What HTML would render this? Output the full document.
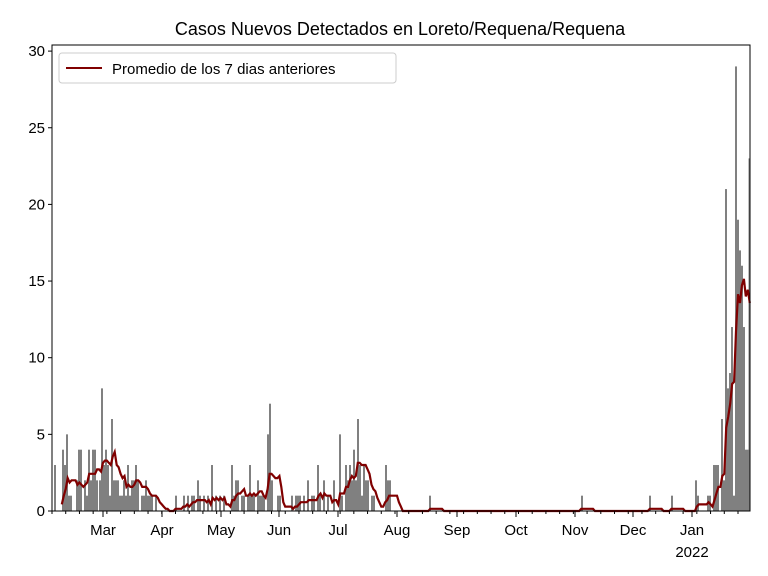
<!DOCTYPE html>
<html><head><meta charset="utf-8"><style>
body{margin:0;background:#fff;}
svg{display:block;font-family:"Liberation Sans","DejaVu Sans",sans-serif;}
</style></head><body>
<svg id="s" width="768" height="576" xmlns="http://www.w3.org/2000/svg">
<rect width="768" height="576" fill="#fff"/>
<g id="bars"></g>
<polyline id="line" fill="none" stroke="#800000" stroke-width="2.2"/>
<rect x="52" y="45" width="698" height="466" fill="none" stroke="#000" stroke-width="1"/>
<text x="400" y="35" text-anchor="middle" font-size="18">Casos Nuevos Detectados en Loreto/Requena/Requena</text>
<g id="yt" font-size="15" text-anchor="end"></g>
<g id="xt" font-size="15" text-anchor="middle"></g>
<rect x="59" y="53" width="337" height="30" fill="#fff" stroke="#ccc" rx="3"/>
<line x1="66" y1="68" x2="102" y2="68" stroke="#800000" stroke-width="2"/>
<text x="112" y="74" font-size="15">Promedio de los 7 dias anteriores</text>
</svg>
<script>
var d=[[55,3],[63,4],[65,3],[67,5],[69,1],[71,1],[77,2],[79,4],[81,4],[85,2],[87,1],[89,4],[91,2],[93,4],[95,4],[97,2],[100,2],[102,8],[104,3],[106,4],[108,3],[110,1],[112,6],[114,2],[116,2],[118,2],[120,1],[122,1],[124,2],[126,1],[128,3],[130,1],[132,2],[134,2],[136,3],[138,2],[142,1],[144,1],[146,2],[148,1],[150,1],[152,1],[156,1],[176,1],[184,1],[188,1],[192,1],[194,1],[198,2],[200,1],[204,1],[208,1],[212,3],[216,1],[220,1],[224,1],[232,3],[234,1],[236,2],[238,2],[242,1],[244,1],[248,1],[250,3],[252,1],[254,1],[258,2],[260,1],[262,1],[264,1],[268,5],[270,7],[272,2],[278,1],[280,1],[292,1],[296,1],[298,1],[300,1],[304,1],[308,2],[312,1],[314,1],[318,3],[320,1],[324,2],[328,1],[334,2],[340,5],[342,1],[346,3],[348,2],[350,3],[352,2],[354,4],[356,2],[358,6],[360,3],[362,1],[364,3],[366,2],[368,2],[372,1],[374,1],[386,3],[388,2],[390,2],[430,1],[582,1],[650,1],[672,1],[696,2],[698,1],[708,1],[710,1],[714,3],[716,3],[718,3],[722,6],[724,2],[726,21],[728,8],[730,9],[732,12],[734,1],[736,29],[738,19],[740,17],[742,16],[744,12],[746,4],[748,4],[749.5,23]];
var dx=1.96,y0=511,k=15.33,N=357,v=new Array(N).fill(0);
var ns="http://www.w3.org/2000/svg",B=document.getElementById('bars');
function el(t,a,p){var e=document.createElementNS(ns,t);for(var q in a)e.setAttribute(q,a[q]);p.appendChild(e);return e;}
d.forEach(function(p){var i=Math.round((p[0]-52)/dx);if(i>=0&&i<N)v[i]=p[1];
el('rect',{x:p[0]-1,y:y0-p[1]*k,width:2,height:p[1]*k,fill:'#808080'},B);});
var pts=[];for(var i=5;i<N;i++){var s=0;for(var j=i-6;j<=i;j++)s+=(j>=0?v[j]:0);pts.push((52+i*dx).toFixed(1)+','+(y0-s/7*k).toFixed(1));}
document.getElementById('line').setAttribute('points',pts.join(' '));
var YT=document.getElementById('yt');
for(var t=0;t<=30;t+=5){var y=y0-t*k;el('line',{x1:48,x2:52,y1:y,y2:y,stroke:'#000'},YT);var tx=el('text',{x:45,y:y+5},YT);tx.textContent=t;}
var XT=document.getElementById('xt');
var m=[[103,'Mar'],[162,'Apr'],[221,'May'],[279,'Jun'],[338,'Jul'],[397,'Aug'],[457,'Sep'],[516,'Oct'],[575,'Nov'],[633,'Dec'],[692,'Jan']];
m.forEach(function(p){el('line',{x1:p[0],x2:p[0],y1:511,y2:517,stroke:'#000'},XT);var tx=el('text',{x:p[0],y:535},XT);tx.textContent=p[1];});
for(var x=52;x<=750;x+=1.96*7){el('line',{x1:x,x2:x,y1:511,y2:514,stroke:'#000'},XT);}
var t2=el('text',{x:692,y:557},XT);t2.textContent='2022';
</script>
</body></html>
